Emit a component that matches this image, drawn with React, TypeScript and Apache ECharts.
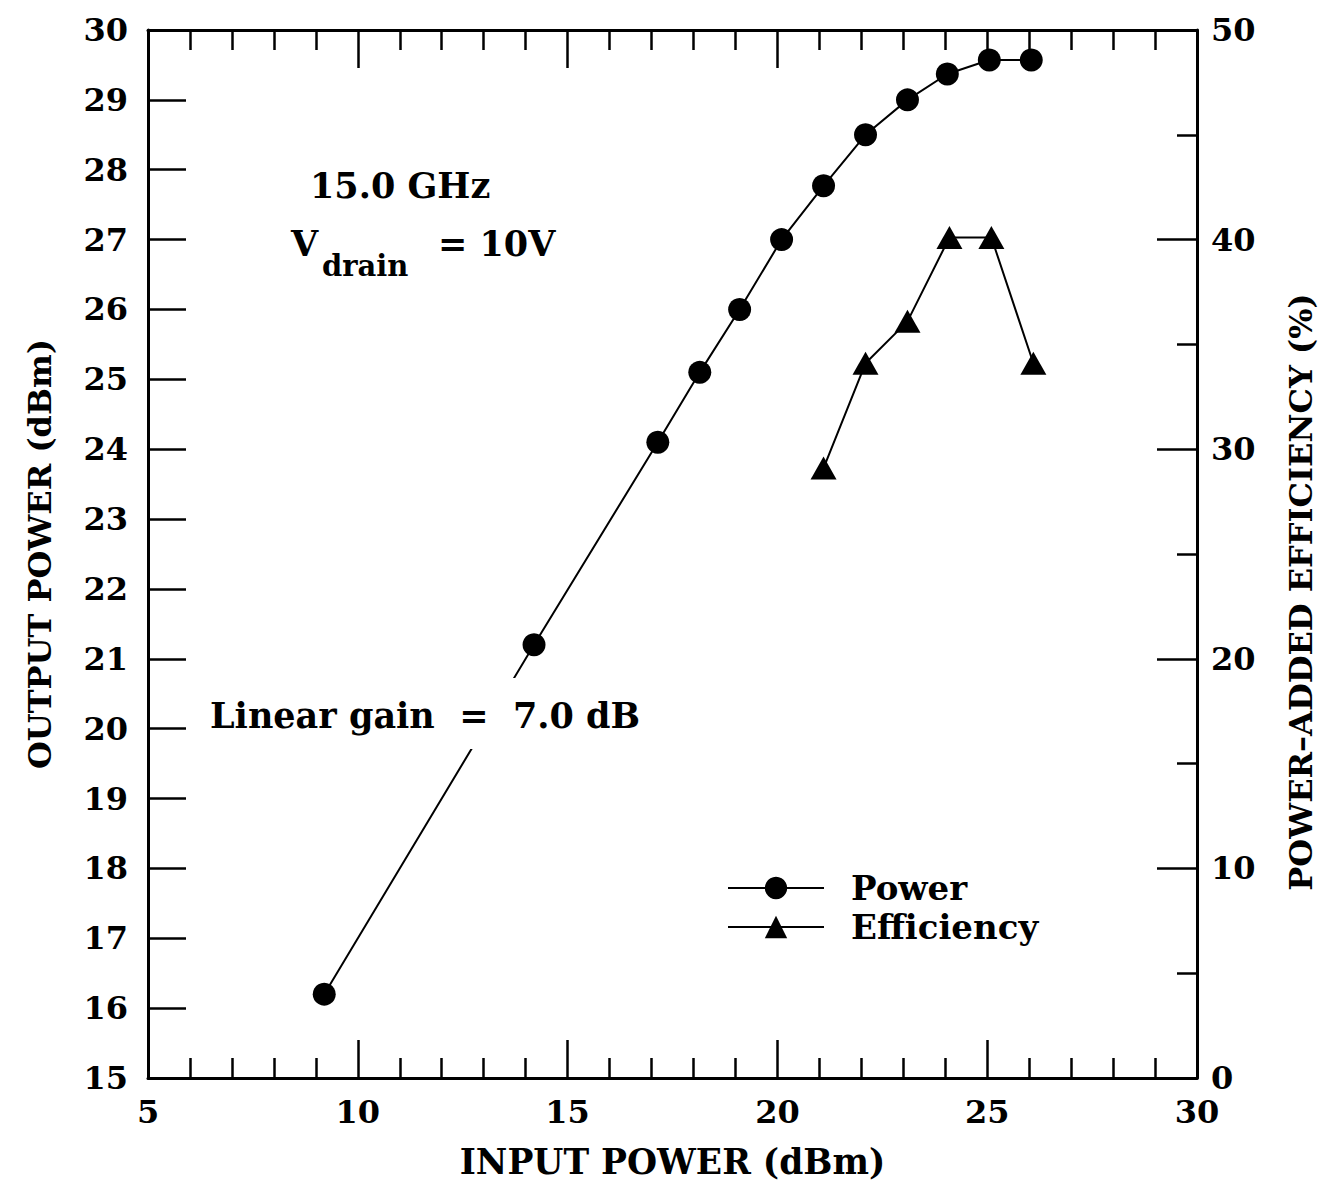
import React, { useEffect, useRef } from "react";
import * as echarts from "echarts";

const powerIn = [9.2, 14.2, 17.15, 18.15, 19.1, 20.1, 21.1, 22.1, 23.1, 24.05, 25.05, 26.05];
const powerOut = [16.2, 21.2, 24.1, 25.1, 26.0, 27.0, 27.77, 28.5, 29.0, 29.37, 29.57, 29.57];
const effIn = [21.1, 22.1, 23.1, 24.1, 25.1, 26.1];
const effVal = [29.1, 34.1, 36.1, 40.1, 40.1, 34.1];

const FONT = "DejaVu Serif";

export default function App() {
  const ref = useRef<HTMLDivElement>(null);
  useEffect(() => {
    const chart = echarts.init(ref.current!, undefined, { renderer: "svg" });
    const axisLine = { lineStyle: { color: "#000", width: 3 } };
    const labelStyle = { color: "#000", fontFamily: FONT, fontWeight: "bold" as const, fontSize: 32 };
    const nameStyle = { color: "#000", fontFamily: FONT, fontWeight: "bold" as const, fontSize: 32 };
    chart.setOption({
      animation: false,
      backgroundColor: "#fff",
      grid: { left: 148, right: 129, top: 30, bottom: 119 },
      legend: {
        left: 722,
        top: 866,
        orient: "vertical",
        itemWidth: 96,
        itemHeight: 28,
        itemGap: 5,
        textStyle: { ...labelStyle, fontSize: 34, padding: [0, 0, 0, 22] },
        data: ["Power", "Efficiency"],
      },
      xAxis: [
        {
          type: "value",
          min: 5,
          max: 30,
          interval: 5,
          position: "bottom",
          axisLine,
          splitLine: { show: false },
          axisTick: { inside: true, length: 38, lineStyle: { width: 2.5, color: "#000" } },
          minorTick: { show: true, splitNumber: 5, length: 20, lineStyle: { width: 2.5, color: "#000" } },
          axisLabel: { ...labelStyle, margin: 18 },
          name: "INPUT POWER (dBm)",
          nameLocation: "middle",
          nameGap: 66,
          nameTextStyle: { ...nameStyle, fontSize: 34.5 },
        },
        {
          type: "value",
          min: 5,
          max: 30,
          interval: 5,
          position: "top",
          axisLine,
          splitLine: { show: false },
          axisTick: { inside: true, length: 38, lineStyle: { width: 2.5, color: "#000" } },
          minorTick: { show: true, splitNumber: 5, length: 20, lineStyle: { width: 2.5, color: "#000" } },
          axisLabel: { show: false },
        },
      ],
      yAxis: [
        {
          type: "value",
          min: 15,
          max: 30,
          interval: 1,
          position: "left",
          axisLine,
          splitLine: { show: false },
          axisTick: { inside: true, length: 38, lineStyle: { width: 2.5, color: "#000" } },
          axisLabel: { ...labelStyle, margin: 20 },
          name: "OUTPUT POWER (dBm)",
          nameLocation: "middle",
          nameGap: 92,
          nameTextStyle: nameStyle,
        },
        {
          type: "value",
          min: 0,
          max: 50,
          interval: 10,
          position: "right",
          axisLine,
          splitLine: { show: false },
          axisTick: { inside: true, length: 40, lineStyle: { width: 2.5, color: "#000" } },
          minorTick: { show: true, splitNumber: 2, length: 20, lineStyle: { width: 2.5, color: "#000" } },
          axisLabel: { ...labelStyle, margin: 14 },
          name: "POWER\u2013ADDED EFFICIENCY (%)",
          nameLocation: "middle",
          nameGap: 88,
          nameRotate: 90,
          nameTextStyle: { ...nameStyle, padding: [0, 76, 0, 0] },
        },
      ],
      series: [
        {
          name: "Power",
          type: "line",
          xAxisIndex: 0,
          yAxisIndex: 0,
          data: powerIn.map((x, i) => [x, powerOut[i]]),
          symbol: "circle",
          symbolSize: 23,
          itemStyle: { color: "#000" },
          lineStyle: { color: "#000", width: 2 },
          z: 3,
        },
        {
          name: "Efficiency",
          type: "line",
          xAxisIndex: 0,
          yAxisIndex: 1,
          data: effIn.map((x, i) => [x, effVal[i]]),
          symbol: "triangle",
          symbolSize: [26, 23],
          itemStyle: { color: "#000" },
          lineStyle: { color: "#000", width: 2 },
          z: 3,
        },
      ],
      graphic: [
        {
          type: "text",
          left: 310,
          top: 168,
          z: 100,
          style: { text: "15.0 GHz", fill: "#000", font: `bold 35px "${FONT}"` },
        },
        {
          type: "text",
          left: 291,
          top: 226,
          z: 100,
          style: { text: "V", fill: "#000", font: `bold 35px "${FONT}"` },
        },
        {
          type: "text",
          left: 322,
          top: 251,
          z: 100,
          style: { text: "drain", fill: "#000", font: `bold 29px "${FONT}"` },
        },
        {
          type: "text",
          left: 438,
          top: 226,
          z: 100,
          style: { text: "= 10V", fill: "#000", font: `bold 35px "${FONT}"` },
        },
        {
          type: "text",
          left: 202,
          top: 678,
          z: 100,
          style: {
            text: "Linear gain  =  7.0 dB",
            fill: "#000",
            font: `bold 35px "${FONT}"`,
            backgroundColor: "#fff",
            padding: [20, 8, 16, 8],
          },
        },
      ],
    });
    return () => chart.dispose();
  }, []);
  return (
    <div
      ref={ref}
      style={{ position: "fixed", left: 0, top: 0, width: 1326, height: 1197, background: "#fff" }}
    />
  );
}
